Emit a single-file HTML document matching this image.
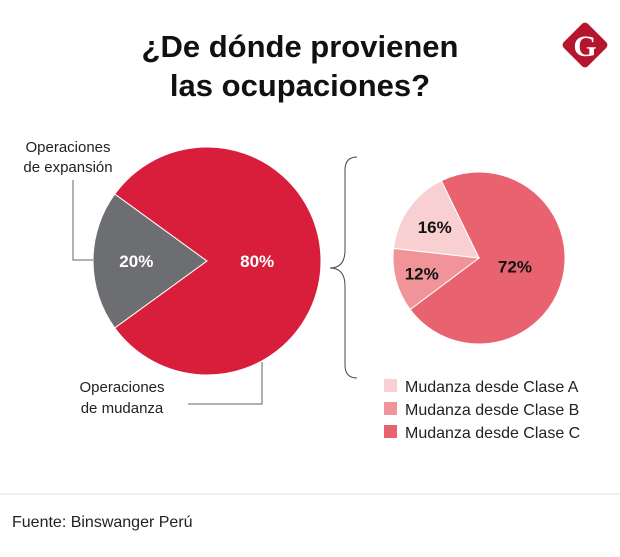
<!DOCTYPE html>
<html><head><meta charset="utf-8"><style>
body{margin:0;width:620px;height:557px;background:#fff;overflow:hidden;font-family:"Liberation Sans",sans-serif}
svg{display:block}
</style></head><body>
<svg width="620" height="557">
<text x="300" y="57" text-anchor="middle" font-size="31" font-weight="bold" fill="#111">¿De dónde provienen</text>
<text x="300" y="96" text-anchor="middle" font-size="31" font-weight="bold" fill="#111">las ocupaciones?</text>
<g>
<rect x="568" y="28" width="34" height="34" rx="4" fill="#b5162e" transform="rotate(45 585 45)"/>
<text x="585" y="56" text-anchor="middle" font-size="30" font-weight="bold" fill="#fff" font-family="Liberation Serif,serif">G</text>
</g>
<g id="big"></g>
<g id="small"></g>
<g fill="none" stroke="#666" stroke-width="1">
<polyline points="73,180 73,260 93,260"/>
<polyline points="262,362 262,404 188,404"/>
<path d="M357,157 Q345,157 345,170 L345,250 Q345,268 330,268 Q345,268 345,286 L345,365 Q345,378 357,378" stroke="#444"/>
</g>
<text x="68" y="152" text-anchor="middle" font-size="15" fill="#222">Operaciones</text>
<text x="68" y="172" text-anchor="middle" font-size="15" fill="#222">de expansión</text>
<text x="122" y="392" text-anchor="middle" font-size="15" fill="#222">Operaciones</text>
<text x="122" y="413" text-anchor="middle" font-size="15" fill="#222">de mudanza</text>
<g id="legend"></g>
<line x1="0" y1="494" x2="620" y2="494" stroke="#ddd"/>
<text x="12" y="527" font-size="16" fill="#222">Fuente: Binswanger Perú</text>
</svg>
<script>
const bigLabels=["Operaciones de expansión","Operaciones de mudanza"];
const bigValues=[20,80];
const bigColors=["#6d6e71","#d81e3a"];
const smallLabels=["Mudanza desde Clase C","Mudanza desde Clase B","Mudanza desde Clase A"];
const smallValues=[72,12,16];
const smallColors=["#e8636f","#f0949a","#f9d0d2"];
const NS="http://www.w3.org/2000/svg";
function pt(cx,cy,r,b){const a=b*Math.PI/180;return [cx+r*Math.sin(a),cy-r*Math.cos(a)];}
function pie(g,cx,cy,r,vals,cols,start,txtCol,lr,names){
 const tot=vals.reduce((a,b)=>a+b,0);let b=start;
 vals.forEach((v,i)=>{const sw=v/tot*360;const p1=pt(cx,cy,r,b),p2=pt(cx,cy,r,b+sw);
  const p=document.createElementNS(NS,"path");
  p.setAttribute("d",`M${cx},${cy}L${p1[0]},${p1[1]}A${r},${r} 0 ${sw>180?1:0} 1 ${p2[0]},${p2[1]}Z`);
  p.setAttribute("fill",cols[i]);p.setAttribute("stroke","#fff");p.setAttribute("stroke-width","1");
  
  
  g.appendChild(p);
  const lp=pt(cx,cy,r*lr[i],b+sw/2);
  const t=document.createElementNS(NS,"text");
  t.setAttribute("x",lp[0]);t.setAttribute("y",lp[1]+6);t.setAttribute("text-anchor","middle");
  t.setAttribute("font-size","17");t.setAttribute("font-weight","bold");t.setAttribute("fill",txtCol);
  t.textContent=v+"%";
  
  
  g.appendChild(t);
  b+=sw;});
}
pie(document.getElementById("big"),207,261,114,bigValues,bigColors,234,"#fff",[0.62,0.44],["expansion","mudanza"]);
pie(document.getElementById("small"),479,258,86,smallValues,smallColors,334,"#111",[0.43,0.69,0.63],["clase-c","clase-b","clase-a"]);
const lg=document.getElementById("legend");
[2,1,0].forEach((i,k)=>{const y=386+k*23;
 const r=document.createElementNS(NS,"rect");r.setAttribute("x",384);r.setAttribute("y",y-7);r.setAttribute("width",13);r.setAttribute("height",13);r.setAttribute("fill",smallColors[i]);
 
 
 lg.appendChild(r);
 const t=document.createElementNS(NS,"text");t.setAttribute("x",405);t.setAttribute("y",y+6);t.setAttribute("font-size","16");t.setAttribute("fill","#222");t.textContent=smallLabels[i];
 
 
 lg.appendChild(t);});
</script>
</body></html>
